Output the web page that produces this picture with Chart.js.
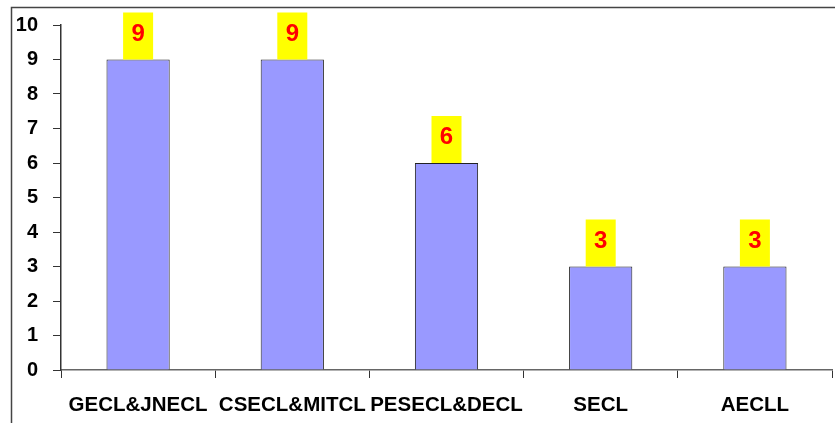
<!DOCTYPE html>
<html>
<head>
<meta charset="utf-8">
<script src="https://cdn.jsdelivr.net/npm/chart.js@4.4.1/dist/chart.umd.min.js"></script>
<style>
  html, body { margin: 0; padding: 0; background: #ffffff; }
  #wrap { width: 835px; height: 423px; }
</style>
</head>
<body>
<div id="wrap"><canvas id="chart" width="835" height="423"></canvas></div>
<script>
// Companies and their counts
const categories = ['GECL&JNECL', 'CSECL&MITCL', 'PESECL&DECL', 'SECL', 'AECLL'];
const counts = [9, 9, 6, 3, 3];
const yTicks = [0, 1, 2, 3, 4, 5, 6, 7, 8, 9, 10];

const FONT = '"Liberation Sans", Arial, sans-serif';

// Thin frame along the top and left edges of the figure
const framePlugin = {
  id: 'frame',
  beforeDraw(chart) {
    const ctx = chart.ctx;
    ctx.save();
    ctx.strokeStyle = '#444444';
    ctx.lineWidth = 1.5;
    ctx.beginPath();
    ctx.moveTo(11.5, chart.height);
    ctx.lineTo(11.5, 7.5);
    ctx.lineTo(chart.width, 7.5);
    ctx.stroke();
    ctx.restore();
  }
};

// Yellow value boxes sitting on top of each bar
const valueBoxPlugin = {
  id: 'valueBoxes',
  afterDatasetsDraw(chart) {
    const ctx = chart.ctx;
    const meta = chart.getDatasetMeta(0);
    const data = chart.data.datasets[0].data;
    ctx.save();
    meta.data.forEach((bar, i) => {
      const w = 30, h = 47;
      const x = bar.x - w / 2;
      const y = bar.y - h;
      ctx.fillStyle = '#FFFF00';
      ctx.fillRect(x, y, w, h);
      ctx.fillStyle = '#FF0000';
      ctx.font = 'bold 24px ' + FONT;
      ctx.textAlign = 'center';
      ctx.textBaseline = 'middle';
      ctx.fillText(String(data[i]), bar.x, y + h / 2 - 2);
    });
    ctx.restore();
  }
};

new Chart(document.getElementById('chart'), {
  type: 'bar',
  data: {
    labels: categories,
    datasets: [{
      data: counts,
      backgroundColor: '#9999FF',
      borderColor: '#222222',
      borderWidth: 1,
      barPercentage: 0.41,
      categoryPercentage: 1.0
    }]
  },
  options: {
    responsive: false,
    animation: false,
    devicePixelRatio: 1,
    layout: { padding: { top: 25, right: 3, bottom: 0, left: 0 } },
    plugins: {
      legend: { display: false },
      tooltip: { enabled: false }
    },
    scales: {
      x: {
        offset: true,
        border: { display: true, color: '#666666', width: 1.5 },
        grid: {
          display: true,
          offset: true,
          drawOnChartArea: false,
          drawTicks: true,
          tickLength: 8,
          color: '#333333',
          lineWidth: 1
        },
        ticks: {
          color: '#000000',
          font: { family: FONT, size: 20.5, weight: 'bold' },
          padding: 15,
          maxRotation: 0,
          autoSkip: false
        },
        afterFit(scale) { scale.height = 53; }
      },
      y: {
        min: 0,
        max: 10,
        border: { display: true, color: '#333333', width: 1.5 },
        grid: {
          display: true,
          drawOnChartArea: false,
          drawTicks: true,
          tickLength: 8,
          color: '#333333',
          lineWidth: 1
        },
        afterBuildTicks(scale) {
          scale.ticks = yTicks.map(v => ({ value: v }));
        },
        ticks: {
          color: '#000000',
          font: { family: FONT, size: 20, weight: 'bold' },
          padding: 15
        },
        afterFit(scale) {
          scale.width = 61;
          scale.paddingTop = 12;
          scale.paddingBottom = 12;
        }
      }
    }
  },
  plugins: [framePlugin, valueBoxPlugin]
});
</script>
</body>
</html>
